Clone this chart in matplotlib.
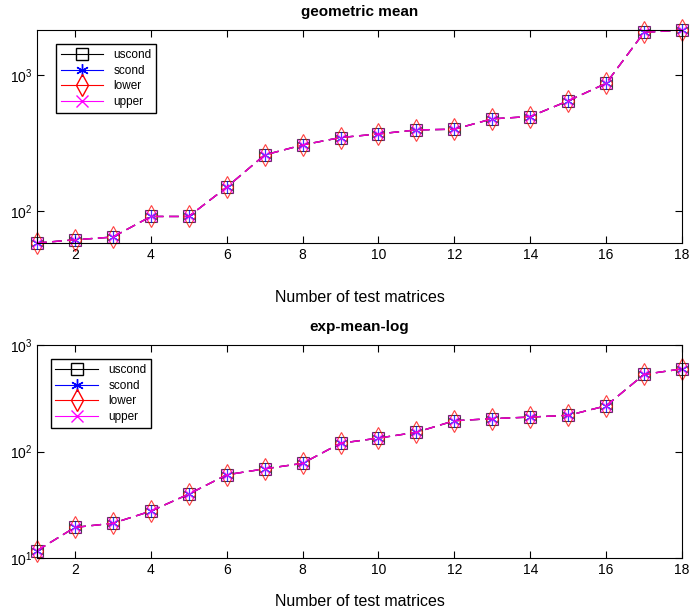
import matplotlib
matplotlib.use('Agg')
import matplotlib.pyplot as plt
from matplotlib.lines import Line2D
import numpy as np

plt.rcParams.update({'font.family': 'Liberation Sans', 'font.size': 10,
                     'mathtext.default': 'regular',
                     'xtick.direction': 'in', 'ytick.direction': 'in',
                     'xtick.top': True, 'ytick.right': True})

n = np.arange(1, 19)
geo_mean = [58.2, 61.5, 64.4, 91.3, 91.3, 150, 259, 307, 348,
            370, 396, 401, 478, 497, 648, 873, 2070, 2155]
exp_mean_log = [11.8, 19.5, 21.3, 27.7, 40, 60.7, 69, 77.7, 120,
                134, 152, 195, 204, 211, 219, 269, 530, 597]
labels = ['uscond', 'scond', 'lower', 'upper']
colors = ['black', 'blue', 'red', 'magenta']
markers = ['s', (6, 2, 0), 'd', 'x']
msizes = [8, 9, 11, 8]

fig = plt.figure(figsize=(6.9, 6.14), dpi=100)
ax1 = fig.add_axes([0.0536, 0.6042, 0.9348, 0.3469])
ax2 = fig.add_axes([0.0536, 0.0907, 0.9348, 0.3474])

def panel(ax, vals, title, ylim, legpos, tpad, lpad):
    for lab, c, m, ms in zip(labels, colors, markers, msizes):
        ax.plot(n, vals, color=c, ls=(0, (7, 4)), lw=1, marker=m, ms=ms,
                mfc='none', mec=c, mew=0.8, alpha=0.75, label=lab, clip_on=False)
    ax.set_yscale('log')
    ax.set_xlim(1, 18)
    ax.set_ylim(*ylim)
    ax.set_xticks(range(2, 19, 2))
    ax.yaxis.set_minor_locator(matplotlib.ticker.NullLocator())
    ax.tick_params(length=5, labelsize=10)
    ax.set_title(title, fontweight='bold', fontsize=11, pad=tpad)
    ax.set_xlabel('Number of test matrices', fontsize=11.5, labelpad=lpad)
    handles = [Line2D([0], [0], color=c, lw=0.8, marker=m, ms=ms, mfc='none', mec=c)
               for c, m, ms in zip(colors, markers, msizes)]
    ax.legend(handles, labels, loc='upper left', bbox_to_anchor=legpos, fontsize=8.5,
              fancybox=False, edgecolor='black', framealpha=1, handlelength=3.6,
              borderpad=0.4, labelspacing=0.3, handletextpad=0.9)

panel(ax1, geo_mean, 'geometric mean', (min(geo_mean), max(geo_mean)), (0.02, 0.96), 10, 20)
panel(ax2, exp_mean_log, 'exp-mean-log', (10, 1000), (0.012, 0.96), 10, 12)

fig.savefig('out.png', dpi=100)
